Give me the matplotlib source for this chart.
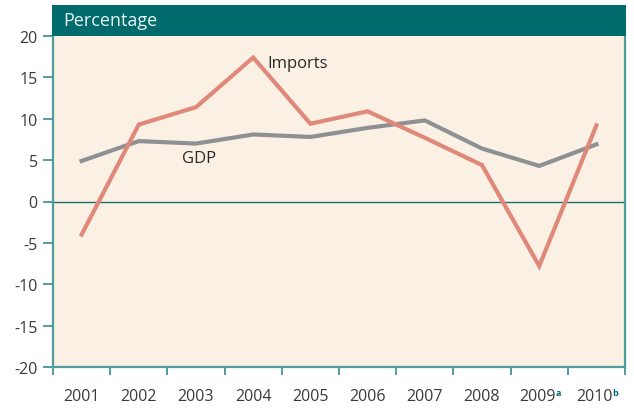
import matplotlib
matplotlib.use("Agg")
import matplotlib.pyplot as plt
from matplotlib.patches import Rectangle
import matplotlib.transforms as mtransforms

years = ["2001", "2002", "2003", "2004", "2005", "2006", "2007", "2008", "2009", "2010"]
year_notes = ["", "", "", "", "", "", "", "", "a", "b"]
imports = [-4.0, 9.3, 11.4, 17.4, 9.4, 10.9, 7.7, 4.4, -7.8, 9.2]
gdp = [4.9, 7.3, 7.0, 8.1, 7.8, 8.9, 9.8, 6.4, 4.3, 6.9]
yticks = [-20, -15, -10, -5, 0, 5, 10, 15, 20]

plt.rcParams['font.family'] = ['Open Sans', 'DejaVu Sans']

W, H = 634, 410
fig = plt.figure(figsize=(W / 100, H / 100), dpi=100)
fig.patch.set_facecolor('white')

left, right = 53 / W, 625 / W
bottom, top = 1 - 368 / H, 1 - 37 / H
ax = fig.add_axes([left, bottom, right - left, top - bottom])

teal = '#006A6C'
spine_c = '#4F9E9E'
bg = '#FAF1E4'
imp_c = '#E0887A'
gdp_c = '#8F9093'
txt_c = '#3A3A3A'

ax.set_facecolor(bg)
n = len(years)
x = list(range(n))
ax.set_xlim(-0.5, n - 0.5)
ax.set_ylim(-20, 20)

ax.axhline(0, color='#1E6E6E', lw=1.0, zorder=1)
ax.plot(x, gdp, color=gdp_c, lw=3.0, solid_joinstyle='miter', zorder=2)
ax.plot(x, imports, color=imp_c, lw=3.0, solid_joinstyle='miter', zorder=3)

ax.spines['top'].set_visible(False)
for s in ['left', 'bottom', 'right']:
    ax.spines[s].set_color(spine_c)
    ax.spines[s].set_linewidth(1.6)

ax.set_yticks(yticks)
ax.set_yticklabels([str(v) for v in yticks])
ax.tick_params(axis='y', direction='out', length=7, width=1.4, color=spine_c,
               labelsize=11.5, labelcolor=txt_c, pad=4)

ax.set_xticks([i - 0.5 for i in range(n + 1)])
ax.set_xticklabels([])
ax.tick_params(axis='x', direction='out', length=6, width=1.4, color=spine_c)

trans = mtransforms.blended_transform_factory(ax.transData, ax.transAxes)
for i, (yr, note) in enumerate(zip(years, year_notes)):
    if note:
        ax.annotate(yr, xy=(i, 0), xycoords=trans, xytext=(-2, -29), textcoords='offset pixels',
                    ha='center', va='center', fontsize=11.5, color=txt_c)
        ax.annotate(note, xy=(i, 0), xycoords=trans, xytext=(16, -26), textcoords='offset pixels',
                    ha='left', va='center', fontsize=6.5, color=teal, fontweight='bold')
    else:
        ax.annotate(yr, xy=(i, 0), xycoords=trans, xytext=(0, -29), textcoords='offset pixels',
                    ha='center', va='center', fontsize=11.5, color=txt_c)

hdr_top = 1 - 6 / H
fig.patches.append(Rectangle((left - 0.0012, top), right - left + 0.0024, hdr_top - top,
                             transform=fig.transFigure, facecolor=teal, edgecolor='none', zorder=5))
fig.text(left + 10 / W, (top + hdr_top) / 2, 'Percentage', color='#E8F3F2', fontsize=13,
         ha='left', va='center', zorder=6)

ax.annotate('Imports', xy=(3, imports[3]), xytext=(14, -5), textcoords='offset pixels',
            ha='left', va='center', fontsize=12, color='#2A2A2A')
ax.annotate('GDP', xy=(2, gdp[2]), xytext=(-14, -14), textcoords='offset pixels',
            ha='left', va='center', fontsize=12, color='#2A2A2A')

fig.savefig('out.png', dpi=100, facecolor='white')
